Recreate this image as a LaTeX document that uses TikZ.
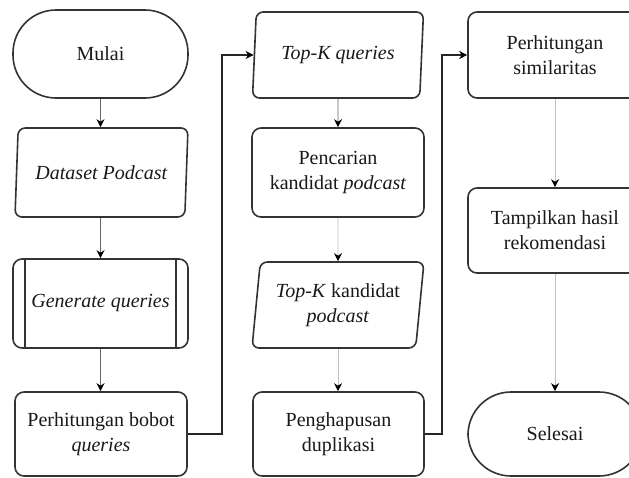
\documentclass[tikz,border=0pt]{standalone}
\usepackage{fontspec}
\setmainfont{Liberation Serif}
\usetikzlibrary{shapes.geometric,arrows.meta,calc}

\tikzset{
  base/.style={draw=black!80, line width=1.6pt, fill=white, align=center,
    font=\fontsize{20}{25}\selectfont, text=black!90, inner sep=2pt},
  procbox/.style={base, rectangle, rounded corners=9pt},
  iobox/.style={base, trapezium, trapezium left angle=80, trapezium right angle=100,
    trapezium stretches body, rounded corners=7pt},
  termbox/.style={base, rectangle, rounded corners=43pt},
  subline/.style={draw=black!80, line width=1.6pt},
  tip/.style={-{Stealth[length=8pt,width=8pt,inset=2.5pt,color=black]}},
  flowdark/.style={tip, line width=0.9pt, draw=black!60},
  flowlight/.style={tip, line width=0.9pt, draw=black!25},
  elbow/.style={tip, line width=1.5pt, draw=black!85},
}

\begin{document}
\begin{tikzpicture}[x=1pt,y=-1pt]
\useasboundingbox (0,0) rectangle (629,477);
\fill[white] (0,0) rectangle (629,477);
\clip (0,0) rectangle (629,477);

% column 1
\node[termbox, minimum width=175pt, minimum height=88pt] (mulai) at (100.5,54) {Mulai};
\node[iobox, minimum width=173pt, minimum height=89pt] (ds) at (101.5,172.5) {\textit{Dataset Podcast}};
\node[procbox, minimum width=175pt, minimum height=89pt] (gq) at (100.5,303.5) {\textit{Generate queries}};
\draw[subline] ($(gq.north west)+(13,0)$) -- ($(gq.south west)+(13,0)$);
\draw[subline] ($(gq.north east)+(-13,0)$) -- ($(gq.south east)+(-13,0)$);
\node[procbox, minimum width=172pt, minimum height=84pt] (pbq) at (101,434) {Perhitungan bobot\\\textit{queries}};

% column 2
\node[iobox, minimum width=171pt, minimum height=86pt] (tkq) at (338,55) {\textit{Top-K queries}};
\node[procbox, minimum width=172pt, minimum height=89pt] (pkp) at (338,172.5) {Pencarian\\kandidat \textit{podcast}};
\node[iobox, minimum width=172pt, minimum height=86pt] (tkk) at (338,305) {\textit{Top-K} kandidat\\\textit{podcast}};
\node[procbox, minimum width=171pt, minimum height=84pt] (phd) at (338.5,434) {Penghapusan\\duplikasi};

% column 3
\node[procbox, minimum width=174pt, minimum height=86pt] (psim) at (555,55) {Perhitungan\\similaritas};
\node[procbox, minimum width=174pt, minimum height=85pt] (thr) at (555,230.5) {Tampilkan hasil\\rekomendasi};
\node[termbox, minimum width=174pt, minimum height=84pt] (sel) at (555,434) {Selesai};

% vertical connectors
\draw[flowdark] (mulai.south) -- (ds.north -| mulai.south);
\draw[flowdark] (ds.south -| gq.north) -- (gq.north);
\draw[flowdark] (gq.south) -- (pbq.north -| gq.south);
\draw[flowdark] (tkq.south) -- (pkp.north);
\draw[flowlight] (pkp.south) -- (tkk.north);
\draw[flowlight] (tkk.south) -- (phd.north -| tkk.south);
\draw[flowlight] (psim.south) -- (thr.north);
\draw[flowlight] (thr.south) -- (sel.north);

% elbow connectors
\draw[elbow] (pbq.east) -- ++(34,0) |- (tkq.west);
\draw[elbow] (phd.east) -- ++(17,0) |- (psim.west);
\end{tikzpicture}
\end{document}
